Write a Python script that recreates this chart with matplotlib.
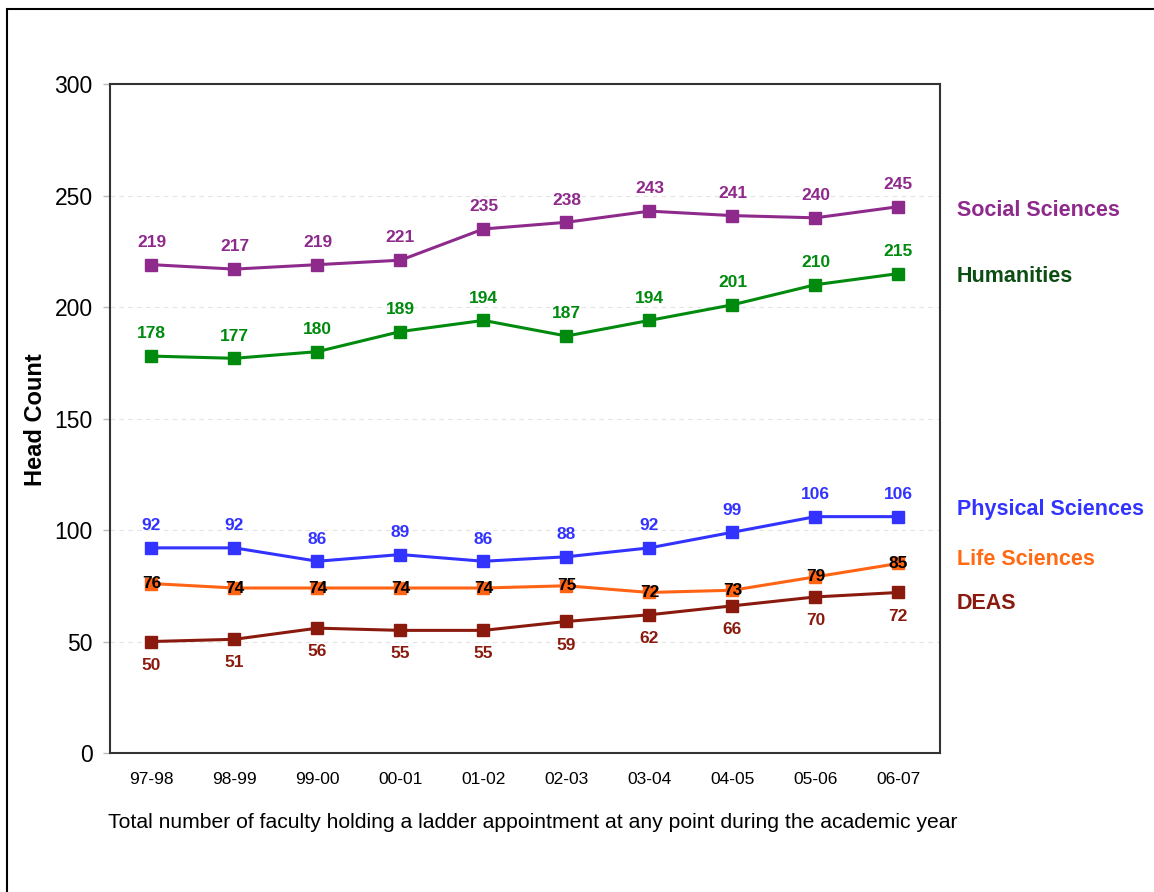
import matplotlib
matplotlib.use("Agg")
import matplotlib.pyplot as plt
from matplotlib.patches import Rectangle

plt.rcParams['font.family'] = ['Liberation Sans', 'DejaVu Sans']

years = ["97-98", "98-99", "99-00", "00-01", "01-02", "02-03", "03-04", "04-05", "05-06", "06-07"]
social_sciences = [219, 217, 219, 221, 235, 238, 243, 241, 240, 245]
humanities = [178, 177, 180, 189, 194, 187, 194, 201, 210, 215]
physical_sciences = [92, 92, 86, 89, 86, 88, 92, 99, 106, 106]
life_sciences = [76, 74, 74, 74, 74, 75, 72, 73, 79, 85]
deas = [50, 51, 56, 55, 55, 59, 62, 66, 70, 72]

y_ticks = [0, 50, 100, 150, 200, 250, 300]

# (name, values, line colour, value-label colour, name colour, label offset in points, name y-position)
series = [
    ("Social Sciences", social_sciences, "#8E2A8C", "#8E2A8C", "#8E2A8C", 16, 243.5),
    ("Humanities", humanities, "#008A0E", "#008A0E", "#0B4D12", 16, 213.5),
    ("Physical Sciences", physical_sciences, "#3333FF", "#3333FF", "#3333FF", 16, 109),
    ("Life Sciences", life_sciences, "#FF6414", "black", "#FF6A13", 0, 87),
    ("DEAS", deas, "#8B1A0E", "#8B1A0E", "#8B1A0E", -17, 67),
]

fig = plt.figure(figsize=(11.54, 8.92), dpi=100)
ax = fig.add_axes([0.0953, 0.1558, 0.7192, 0.75])

x = list(range(len(years)))
for name, vals, lc, tc, nc, off, ny in series:
    ax.plot(x, vals, color=lc, lw=2.2, marker="s", ms=8.5, zorder=3)
    for xi, v in zip(x, vals):
        ax.annotate(str(v), (xi, v), xytext=(0, off), textcoords="offset points",
                    ha="center", va="center", fontsize=12.5, fontweight="bold",
                    color=tc, zorder=4)
    ax.text(1.02, ny, name, transform=ax.get_yaxis_transform(), ha="left",
            va="center", fontsize=15.5, fontweight="bold", color=nc, clip_on=False)

ax.set_xlim(-0.5, len(years) - 0.5)
ax.set_ylim(0, 300)
ax.set_yticks(y_ticks)
ax.set_yticklabels([str(t) for t in y_ticks], fontsize=16.5)
ax.set_xticks(x)
ax.set_xticklabels(years, fontsize=12.5)
ax.tick_params(axis="x", length=0, pad=14)
ax.tick_params(axis="y", length=5, color="#BBBBBB", width=1, pad=7.5)

ax.yaxis.grid(True, linestyle=(0, (4, 4)), color="#E4E4E4", lw=0.8)
ax.set_axisbelow(True)
for sp in ax.spines.values():
    sp.set_color("#333333")
    sp.set_linewidth(1.5)

fig.text(35 / 1154, 1 - 420 / 892, "Head Count", rotation=90, fontsize=17,
         fontweight="bold", ha="center", va="center")
fig.text(108 / 1154, 1 - 822 / 892,
         "Total number of faculty holding a ladder appointment at any point during the academic year",
         fontsize=15.2, ha="left", va="center")

# outer frame
fig.patches.append(Rectangle((7 / 1154, -0.1), 1.2, 0.1 + (892 - 9) / 892,
                             transform=fig.transFigure, fill=False,
                             edgecolor="black", lw=1.5))

fig.savefig("out.png", dpi=100)
